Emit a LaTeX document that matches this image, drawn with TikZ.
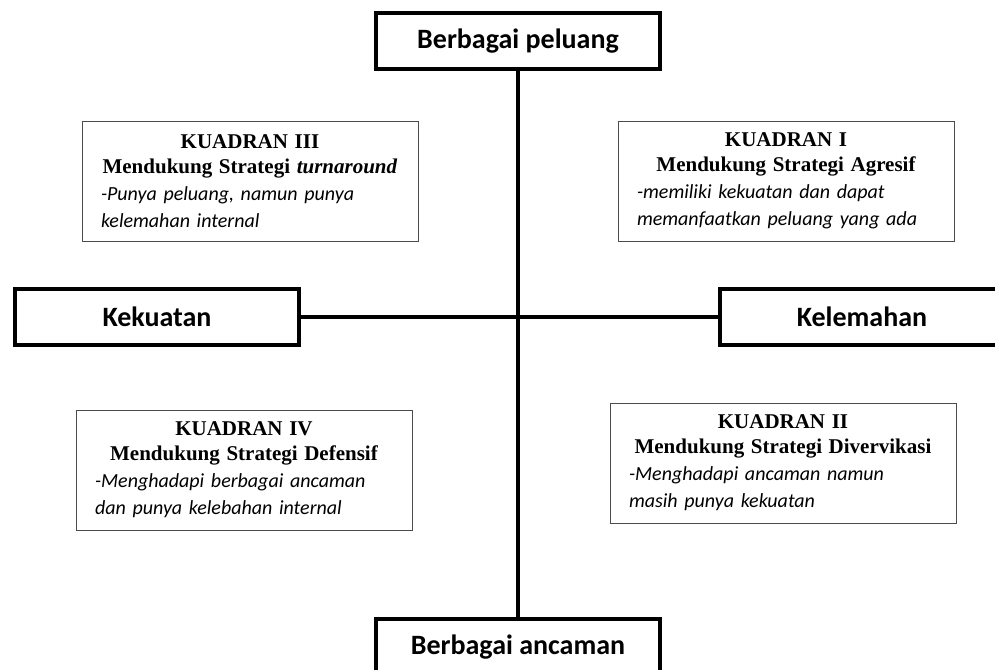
\documentclass[tikz,border=0pt]{standalone}
\usepackage{fontspec}
\setmainfont{Liberation Serif}
\newfontfamily\calibri{Carlito}
\usetikzlibrary{positioning}
\tikzstyle{axisbox} = [rectangle, draw, line width=4pt, minimum width=284pt,
    minimum height=56pt, font=\calibri\bfseries\fontsize{28}{32}\selectfont]
\tikzstyle{kuadran} = [rectangle, draw=black!70, line width=1pt, inner xsep=19pt,
    inner ysep=0pt, minimum height=120pt, text width=298pt, font=\fontsize{20}{25}\selectfont]
\tikzstyle{line} = [draw, line width=4pt]
\newcommand{\judul}[2]{{\centering\bfseries\fontsize{21}{25}\selectfont #1\\#2\par}}
\newcommand{\uraian}[2]{{\raggedright\calibri\itshape\fontsize{20}{27}\selectfont #1\\#2\par}}

\begin{document}
\begin{tikzpicture}[x=1pt, y=-1pt]
		\useasboundingbox (0,0) rectangle (995,669);
		\clip (0,0) rectangle (995,669);
		\node [axisbox] at (518,41) (peluang) {Berbagai peluang};
		\node [axisbox, below=546pt of peluang] (ancaman) {Berbagai ancaman};
		\node [axisbox] at (157,317) (kekuatan) {Kekuatan};
		\node [axisbox, right=417pt of kekuatan] (kelemahan) {Kelemahan};
		
		\node [kuadran] at (250,181) (kuadIII) {\judul{KUADRAN III}{Mendukung Strategi \textit{turnaround}}
			\uraian{-Punya peluang, namun punya}{kelemahan internal}};
		\node [kuadran] at (786,181) (kuadI) {\judul{KUADRAN I}{Mendukung Strategi Agresif}
			\uraian{-memiliki kekuatan dan dapat}{memanfaatkan peluang yang ada}};
		\node [kuadran] at (244,470) (kuadIV) {\judul{KUADRAN IV}{Mendukung Strategi Defensif}
			\uraian{-Menghadapi berbagai ancaman}{dan punya kelebahan internal}};
		\node [kuadran, text width=308pt] at (783,463) (kuadII) {\judul{KUADRAN II}{Mendukung Strategi Divervikasi}
			\uraian{-Menghadapi ancaman namun}{masih punya kekuatan}};
		
		\path [line] (peluang) -- (ancaman);
		\path [line] (kekuatan) -- (kelemahan);
	\end{tikzpicture}
\end{document}
